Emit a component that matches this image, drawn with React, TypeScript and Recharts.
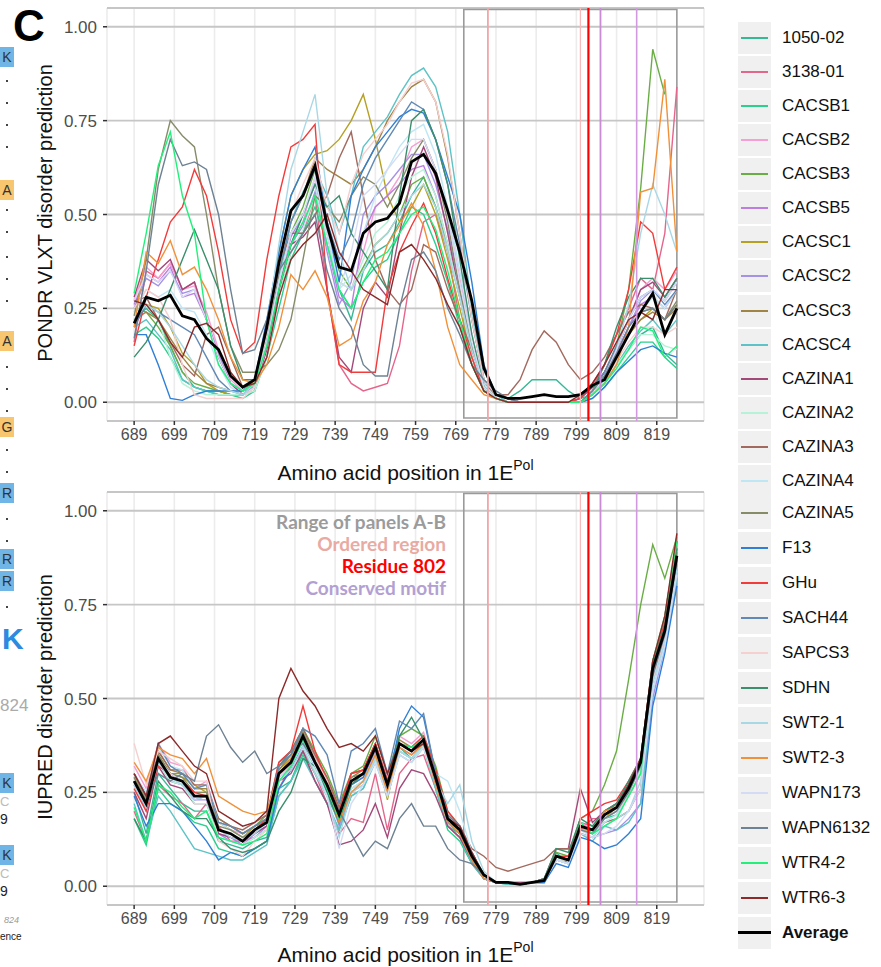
import React from 'react';
import {
  LineChart,
  Line,
  XAxis,
  YAxis,
  CartesianGrid,
  ReferenceArea,
  ReferenceLine,
} from 'recharts';

// residue positions sampled every 3 aa
const positions = [
  689, 692, 695, 698, 701, 704, 707, 710, 713, 716, 719, 722, 725, 728, 731, 734, 737, 740, 743, 746, 749, 752, 755,
  758, 761, 764, 767, 770, 773, 776, 779, 782, 785, 788, 791, 794, 797, 800, 803, 806, 809, 812, 815, 818, 821, 824,
];
const xTicks = [689, 699, 709, 719, 729, 739, 749, 759, 769, 779, 789, 799, 809, 819];
const yTicks = [0, 0.25, 0.5, 0.75, 1];

const strainNames = [
  '1050-02', '3138-01', 'CACSB1', 'CACSB2', 'CACSB3', 'CACSB5', 'CACSC1', 'CACSC2', 'CACSC3', 'CACSC4',
  'CAZINA1', 'CAZINA2', 'CAZINA3', 'CAZINA4', 'CAZINA5', 'F13', 'GHu', 'SACH44', 'SAPCS3', 'SDHN',
  'SWT2-1', 'SWT2-3', 'WAPN173', 'WAPN6132', 'WTR4-2', 'WTR6-3',
];
const strainColors = [
  '#35b995', '#e5668c', '#2bcf8e', '#f59fd5', '#6aad45', '#bd7ee0', '#b5a024', '#a592e6', '#a08445', '#5ec3c6',
  '#a3497a', '#b5f2d8', '#a26a5f', '#bfe6f5', '#868c68', '#2f7fd6', '#f23b3b', '#6189b5', '#f6cfcf', '#3a8f6c',
  '#a8d8e6', '#f0913a', '#d4dcf5', '#6d8294', '#22f07a', '#8c2a2a',
];

// PONDR VLXT
const pondr_1050_02 = [0.22,0.25,0.22,0.15,0.08,0.04,0.03,0.03, 0.02,0.02,0.04,0.15, 0.30,0.42,0.50,0.58,0.45, 0.30,0.22,0.35,0.40,0.42, 0.48,0.55,0.60,0.52,0.40, 0.28,0.15,0.05,0.02, 0.01,0.03,0.06,0.06,0.06,0.03,0.01, 0.02,0.05,0.10,0.14,0.18,0.20,0.13,0.10];
const pondr_3138_01 = [0.16,0.35,0.33,0.37,0.30,0.32,0.22,0.12, 0.05,0.02,0.03,0.15, 0.28,0.40,0.45,0.55,0.30, 0.10,0.05,0.03,0.04,0.05, 0.15,0.35,0.48,0.50,0.40, 0.22,0.10,0.03,0.01, 0,0,0,0,0,0,0.01, 0.04,0.10,0.18,0.25,0.33,0.30,0.45,0.84];
const pondr_CACSB1 = [0.18,0.20,0.17,0.12,0.06,0.04,0.03,0.02, 0.02,0.01,0.03,0.12, 0.25,0.38,0.45,0.52,0.42, 0.30,0.25,0.32,0.36,0.38, 0.45,0.52,0.50,0.42,0.32, 0.20,0.10,0.03,0.01, 0,0,0,0,0,0,0, 0.01,0.04,0.08,0.12,0.16,0.16,0.12,0.09];
const pondr_CACSB2 = [0.27,0.36,0.33,0.37,0.30,0.31,0.24,0.14, 0.06,0.03,0.04,0.14, 0.30,0.42,0.48,0.60,0.45, 0.32,0.30,0.40,0.52,0.55, 0.60,0.68,0.70,0.62,0.50, 0.33,0.18,0.05,0.01, 0,0,0,0,0,0,0.01, 0.04,0.08,0.14,0.22,0.30,0.33,0.30,0.35];
const pondr_CACSB3 = [0.25,0.24,0.20,0.15,0.08,0.05,0.04,0.03, 0.02,0.02,0.04,0.15, 0.30,0.45,0.52,0.62,0.48, 0.35,0.30,0.36,0.42,0.45, 0.50,0.58,0.60,0.52,0.42, 0.28,0.15,0.04,0.01, 0,0,0,0,0,0,0, 0.03,0.08,0.15,0.30,0.57,0.94,0.82,null];
const pondr_CACSB5 = [0.26,0.34,0.32,0.36,0.28,0.29,0.22,0.12, 0.05,0.02,0.04,0.16, 0.32,0.44,0.50,0.58,0.42, 0.28,0.25,0.45,0.52,0.55, 0.58,0.62,0.63,0.55,0.42, 0.28,0.14,0.04,0.01, 0,0,0,0,0,0,0, 0.03,0.07,0.13,0.20,0.26,0.28,0.25,0.30];
const pondr_CACSC1 = [0.24,0.26,0.25,0.20,0.13,0.10,0.05,0.03, 0.02,0.02,0.05,0.18, 0.40,0.55,0.62,0.66,0.67, 0.70,0.75,0.82,0.70,0.55, 0.48,0.52,0.58,0.50,0.38, 0.25,0.12,0.03,0.01, 0,0,0,0,0,0,0, 0.02,0.06,0.12,0.18,0.22,0.25,0.22,0.26];
const pondr_CACSC2 = [0.25,0.33,0.31,0.35,0.29,0.30,0.22,0.13, 0.05,0.03,0.04,0.15, 0.30,0.42,0.47,0.56,0.40, 0.26,0.32,0.50,0.55,0.58, 0.62,0.66,0.66,0.58,0.46, 0.30,0.15,0.04,0.01, 0,0,0,0,0,0,0, 0.03,0.07,0.13,0.20,0.27,0.30,0.27,0.32];
const pondr_CACSC3 = [0.22,0.24,0.22,0.17,0.12,0.08,0.05,0.04, 0.03,0.03,0.06,0.18, 0.34,0.48,0.55,0.65,0.62, 0.60,0.58,0.62,0.68,0.75, 0.80,0.84,0.86,0.80,0.65, 0.45,0.22,0.06,0.02, 0.01,0,0,0,0,0,0, 0.03,0.07,0.12,0.18,0.22,0.24,0.22,0.25];
const pondr_CACSC4 = [0.20,0.22,0.18,0.14,0.06,0.04,0.03,0.02, 0.02,0.02,0.04,0.16, 0.32,0.48,0.56,0.62,0.55, 0.45,0.55,0.68,0.72,0.76, 0.82,0.87,0.89,0.84,0.72, 0.50,0.25,0.06,0.02, 0,0,0,0,0,0,0, 0.02,0.05,0.10,0.15,0.19,0.22,0.18,0.22];
const pondr_CAZINA1 = [0.28,0.38,0.35,0.38,0.30,0.32,0.22,0.12, 0.05,0.02,0.04,0.14, 0.30,0.42,0.44,0.48,0.30, 0.12,0.08,0.25,0.32,0.28, 0.45,0.60,0.68,0.60,0.45, 0.28,0.12,0.03,0.01, 0,0,0,0,0,0,0.01, 0.04,0.08,0.14,0.22,0.30,0.32,0.28,0.33];
const pondr_CAZINA2 = [0.24,0.26,0.22,0.12,0.05,0.03,0.02,0.02, 0.02,0.02,0.03,0.12, 0.28,0.40,0.46,0.55,0.45, 0.32,0.30,0.38,0.45,0.48, 0.55,0.60,0.62,0.55,0.42, 0.28,0.12,0.03,0.01, 0,0,0,0,0,0,0, 0.02,0.05,0.10,0.14,0.18,0.18,0.15,0.14];
const pondr_CAZINA3 = [0.27,0.28,0.22,0.16,0.10,0.07,0.18,0.20, 0.12,0.04,0.05,0.18, 0.36,0.45,0.45,0.50,0.55, 0.65,0.72,0.55,0.38,0.30, 0.26,0.30,0.42,0.40,0.30, 0.22,0.14,0.05,0.02, 0.02,0.06,0.14,0.19,0.16,0.10,0.06, 0.08,0.12,0.18,0.24,0.26,0.25,0.22,0.30];
const pondr_CAZINA4 = [0.24,0.30,0.28,0.30,0.25,0.24,0.18,0.10, 0.04,0.02,0.04,0.15, 0.32,0.45,0.50,0.58,0.42, 0.30,0.34,0.45,0.55,0.62, 0.68,0.72,0.74,0.66,0.52, 0.35,0.18,0.05,0.01, 0,0,0,0,0,0,0, 0.03,0.07,0.12,0.18,0.24,0.28,0.25,0.30];
const pondr_CAZINA5 = [0.23,0.38,0.62,0.75,0.71,0.68,0.50,0.30, 0.15,0.08,0.08,0.10, 0.14,0.22,0.38,0.55,0.52, 0.48,0.55,0.60,0.58,0.52, 0.58,0.65,0.70,0.62,0.48, 0.30,0.15,0.04,0.01, 0,0,0,0,0,0,0, 0.03,0.07,0.12,0.18,0.24,0.25,0.22,0.27];
const pondr_F13 = [0.18,0.18,0.10,0.01,0.005,0.02,0.03,0.03, 0.03,0.03,0.06,0.22, 0.40,0.55,0.62,0.68,0.48, 0.32,0.55,0.62,0.68,0.72, 0.76,0.78,0.77,0.70,0.60, 0.50,0.32,0.10,0.02, 0.01,0,0,0,0,0,0, 0.01,0.04,0.08,0.11,0.14,0.15,0.13,0.12];
const pondr_GHu = [0.15,0.28,0.38,0.48,0.52,0.62,0.55,0.40, 0.22,0.13,0.16,0.38, 0.55,0.68,0.70,0.74,0.30, 0.10,0.08,0.08,0.08,0.30, 0.40,0.47,0.53,0.45,0.33, 0.22,0.12,0.03,0.01, 0,0,0,0,0,0,0.01, 0.05,0.10,0.18,0.30,0.48,0.45,0.30,0.36];
const pondr_SACH44 = [0.20,0.26,0.24,0.22,0.20,0.18,0.12,0.06, 0.03,0.02,0.05,0.18, 0.35,0.48,0.55,0.62,0.48, 0.38,0.45,0.58,0.65,0.70, 0.75,0.80,0.78,0.70,0.58, 0.42,0.22,0.06,0.02, 0.01,0,0,0,0,0,0, 0.03,0.08,0.15,0.22,0.28,0.30,0.26,0.30];
const pondr_SAPCS3 = [0.25,0.30,0.28,0.22,0.10,0.02,0.01,0.01, 0.01,0.01,0.04,0.18, 0.36,0.50,0.58,0.65,0.52, 0.45,0.58,0.66,0.70,0.74, 0.80,0.85,0.86,0.80,0.66, 0.45,0.22,0.06,0.02, 0.01,0,0,0,0,0,0, 0.02,0.06,0.11,0.16,0.20,0.20,0.18,0.20];
const pondr_SDHN = [0.12,0.16,0.22,0.30,0.38,0.46,0.38,0.30, 0.15,0.06,0.06,0.15, 0.30,0.42,0.50,0.58,0.52, 0.55,0.45,0.40,0.35,0.30, 0.55,0.75,0.78,0.70,0.58, 0.38,0.18,0.04,0.01, 0,0,0,0,0,0,0, 0.03,0.10,0.20,0.28,0.33,0.33,0.28,0.33];
const pondr_SWT2_1 = [0.22,0.26,0.24,0.20,0.15,0.10,0.06,0.04, 0.03,0.02,0.05,0.20, 0.42,0.62,0.72,0.82,0.55, 0.40,0.30,0.35,0.42,0.45, 0.50,0.55,0.58,0.52,0.40, 0.28,0.14,0.04,0.01, 0,0,0,0,0,0,0, 0.02,0.06,0.14,0.26,0.45,0.58,0.50,0.40];
const pondr_SWT2_3 = [0.20,0.40,0.37,0.43,0.34,0.36,0.30,0.22, 0.12,0.06,0.05,0.10, 0.20,0.34,0.30,0.35,0.28, 0.15,0.17,0.27,0.32,0.42, 0.47,0.53,0.47,0.35,0.20, 0.10,0.06,0.02,0.01, 0,0,0,0,0,0,0, 0.02,0.05,0.10,0.20,0.56,0.57,0.86,0.40];
const pondr_WAPN173 = [0.27,0.34,0.32,0.35,0.28,0.30,0.22,0.12, 0.05,0.03,0.05,0.16, 0.32,0.45,0.50,0.60,0.45, 0.30,0.40,0.55,0.58,0.62, 0.66,0.70,0.70,0.62,0.50, 0.32,0.16,0.04,0.01, 0,0,0,0,0,0,0, 0.03,0.07,0.14,0.22,0.28,0.30,0.27,0.32];
const pondr_WAPN6132 = [0.17,0.35,0.58,0.70,0.63,0.64,0.62,0.50, 0.30,0.13,0.14,0.22, 0.35,0.40,0.45,0.50,0.35, 0.25,0.20,0.10,0.07,0.07, 0.25,0.38,0.40,0.35,0.25, 0.18,0.10,0.06,0.03, 0.01,0,0,0,0,0,0, 0.03,0.07,0.13,0.20,0.24,0.25,0.22,0.26];
const pondr_WTR4_2 = [0.29,0.45,0.63,0.72,0.55,0.45,0.22,0.10, 0.05,0.03,0.05,0.15, 0.30,0.42,0.48,0.55,0.42, 0.30,0.25,0.32,0.38,0.40, 0.45,0.50,0.52,0.46,0.35, 0.22,0.10,0.03,0.01, 0,0,0,0,0,0,0, 0.02,0.05,0.09,0.14,0.20,0.19,0.12,0.15];
const pondr_WTR6_3 = [0.27,0.26,0.22,0.16,0.12,0.20,0.21,0.18, 0.08,0.04,0.05,0.12, 0.28,0.38,0.42,0.45,0.50, 0.40,0.35,0.30,0.28,0.26, 0.40,0.42,0.38,0.33,0.26, 0.20,0.10,0.03,0.01, 0,0,0,0,0,0,0.02, 0.05,0.10,0.16,0.22,0.24,0.22,0.30,0.30];
const pondr_average = [0.21,0.28,0.27,0.285,0.23,0.22,0.17,0.14, 0.07,0.04,0.06,0.20, 0.37,0.51,0.55,0.63,0.47, 0.36,0.35,0.45,0.48,0.49, 0.53,0.64,0.66,0.61,0.51, 0.40,0.27,0.09,0.02, 0.01,0.01,0.015,0.02,0.015,0.015,0.02, 0.045,0.06,0.12,0.18,0.24,0.29,0.18,0.25];

// IUPRED
const iupred_1050_02 = [0.25,0.14,0.30,0.26,0.22,0.20,0.20,0.12, 0.11,0.10,0.12,0.13, 0.26,0.28,0.36,0.30,0.24, 0.17,0.26,0.28,0.35,0.25, 0.37,0.34,0.38,0.27,0.16, 0.14,0.07,0.02,0.01, 0.01,0.005,0.01,0.01,0.09,0.06,0.17, 0.16,0.20,0.22,0.27,0.34,0.60,0.70,0.90];
const iupred_3138_01 = [0.20,0.12,0.27,0.24,0.22,0.18,0.22,0.16, 0.12,0.12,0.13,0.15, 0.26,0.32,0.36,0.30,0.22, 0.14,0.18,0.17,0.30,0.15, 0.30,0.34,0.35,0.26,0.16, 0.13,0.06,0.02,0.01, 0.01,0.01,0.01,0.01,0.07,0.06,0.15, 0.18,0.18,0.20,0.24,0.30,0.55,0.72,0.92];
const iupred_CACSB1 = [0.18,0.11,0.26,0.22,0.20,0.17,0.16,0.10, 0.09,0.08,0.10,0.12, 0.24,0.28,0.35,0.28,0.22, 0.15,0.24,0.26,0.34,0.24, 0.36,0.34,0.38,0.26,0.15, 0.12,0.06,0.02,0.01, 0.005,0.005,0.01,0.01,0.08,0.06,0.15, 0.14,0.18,0.19,0.24,0.30,0.58,0.70,0.88];
const iupred_CACSB2 = [0.32,0.26,0.38,0.33,0.32,0.26,0.28,0.17, 0.15,0.14,0.16,0.18, 0.32,0.34,0.42,0.35,0.28, 0.20,0.30,0.31,0.38,0.29, 0.40,0.38,0.41,0.30,0.19, 0.16,0.09,0.03,0.01, 0.01,0.005,0.01,0.02,0.08,0.07,0.17, 0.15,0.20,0.22,0.27,0.34,0.56,0.66,0.85];
const iupred_CACSB3 = [0.30,0.24,0.35,0.30,0.30,0.26,0.26,0.18, 0.16,0.14,0.16,0.19, 0.32,0.36,0.42,0.36,0.30, 0.22,0.30,0.32,0.40,0.30, 0.40,0.42,0.40,0.32,0.20, 0.16,0.09,0.03,0.01, 0.01,0.005,0.01,0.02,0.09,0.08,0.18, 0.20,0.27,0.36,0.55,0.75,0.91,0.82,0.93];
const iupred_CACSB5 = [0.28,0.20,0.34,0.28,0.27,0.23,0.24,0.14, 0.13,0.11,0.14,0.16, 0.29,0.32,0.39,0.32,0.26, 0.18,0.27,0.29,0.36,0.26, 0.37,0.35,0.38,0.28,0.17, 0.14,0.07,0.02,0.01, 0.01,0.005,0.01,0.015,0.08,0.07,0.16, 0.15,0.19,0.21,0.26,0.32,0.57,0.67,0.87];
const iupred_CACSC1 = [0.29,0.23,0.35,0.30,0.29,0.27,0.25,0.17, 0.15,0.13,0.16,0.17, 0.31,0.34,0.40,0.34,0.28, 0.20,0.27,0.30,0.37,0.23, 0.38,0.36,0.39,0.28,0.17, 0.15,0.08,0.03,0.01, 0.01,0.005,0.01,0.015,0.08,0.07,0.16, 0.14,0.18,0.21,0.26,0.33,0.57,0.68,0.88];
const iupred_CACSC2 = [0.27,0.21,0.33,0.28,0.27,0.23,0.23,0.14, 0.12,0.11,0.13,0.16, 0.29,0.32,0.38,0.32,0.26, 0.16,0.25,0.27,0.35,0.25, 0.36,0.34,0.37,0.27,0.17, 0.14,0.07,0.02,0.01, 0.01,0.005,0.01,0.01,0.07,0.06,0.14, 0.13,0.14,0.15,0.18,0.22,0.50,0.64,0.82];
const iupred_CACSC3 = [0.30,0.24,0.36,0.31,0.30,0.26,0.26,0.17, 0.16,0.14,0.16,0.18, 0.32,0.35,0.41,0.34,0.28, 0.20,0.29,0.31,0.38,0.28, 0.39,0.37,0.40,0.30,0.19, 0.16,0.09,0.03,0.01, 0.01,0.005,0.01,0.02,0.08,0.07,0.16, 0.15,0.19,0.22,0.27,0.34,0.59,0.69,0.89];
const iupred_CACSC4 = [0.22,0.12,0.24,0.20,0.15,0.10,0.09,0.08, 0.07,0.07,0.09,0.11, 0.24,0.28,0.34,0.28,0.22, 0.15,0.24,0.26,0.33,0.24, 0.35,0.33,0.37,0.26,0.16, 0.13,0.06,0.02,0.01, 0.005,0.005,0.01,0.01,0.07,0.06,0.14, 0.12,0.16,0.15,0.17,0.22,0.52,0.64,0.82];
const iupred_CAZINA1 = [0.25,0.18,0.32,0.27,0.26,0.22,0.22,0.14, 0.13,0.12,0.14,0.16, 0.28,0.30,0.36,0.28,0.22, 0.11,0.12,0.15,0.22,0.13, 0.26,0.31,0.30,0.24,0.16, 0.13,0.07,0.02,0.01, 0.01,0.01,0.01,0.02,0.10,0.10,0.26, 0.17,0.20,0.22,0.27,0.33,0.56,0.68,0.88];
const iupred_CAZINA2 = [0.26,0.20,0.33,0.28,0.27,0.22,0.22,0.13, 0.12,0.11,0.13,0.15, 0.28,0.31,0.38,0.31,0.25, 0.17,0.26,0.28,0.35,0.25, 0.36,0.34,0.37,0.27,0.17, 0.14,0.07,0.02,0.01, 0.01,0.005,0.01,0.01,0.07,0.06,0.15, 0.14,0.18,0.20,0.25,0.31,0.56,0.66,0.86];
const iupred_CAZINA3 = [0.30,0.24,0.36,0.31,0.31,0.27,0.27,0.18, 0.16,0.15,0.17,0.19, 0.33,0.36,0.42,0.35,0.29, 0.21,0.30,0.31,0.38,0.28, 0.38,0.36,0.38,0.28,0.18, 0.16,0.10,0.08,0.05, 0.04,0.05,0.06,0.07,0.10,0.10,0.14, 0.13,0.17,0.18,0.20,0.26,0.55,0.68,0.88];
const iupred_CAZINA4 = [0.30,0.25,0.37,0.32,0.31,0.26,0.27,0.17, 0.15,0.13,0.15,0.18, 0.30,0.33,0.39,0.33,0.27, 0.18,0.26,0.28,0.34,0.26, 0.38,0.37,0.40,0.30,0.28, 0.20,0.09,0.03,0.01, 0.01,0.005,0.01,0.01,0.07,0.06,0.14, 0.13,0.17,0.19,0.24,0.30,0.55,0.66,0.85];
const iupred_CAZINA5 = [0.29,0.23,0.35,0.30,0.29,0.25,0.25,0.16, 0.15,0.13,0.15,0.18, 0.31,0.35,0.41,0.34,0.28, 0.20,0.29,0.30,0.37,0.27, 0.38,0.36,0.39,0.29,0.18, 0.15,0.08,0.03,0.01, 0.01,0.005,0.01,0.015,0.08,0.07,0.16, 0.15,0.19,0.21,0.26,0.33,0.58,0.68,0.88];
const iupred_F13 = [0.24,0.16,0.22,0.22,0.20,0.16,0.12,0.07, 0.09,0.08,0.10,0.12, 0.26,0.31,0.38,0.32,0.25, 0.17,0.27,0.29,0.37,0.27, 0.42,0.48,0.45,0.30,0.17, 0.14,0.07,0.02,0.01, 0.01,0.005,0.01,0.01,0.06,0.05,0.13, 0.12,0.10,0.11,0.14,0.18,0.48,0.62,0.80];
const iupred_GHu = [0.26,0.20,0.32,0.30,0.28,0.25,0.24,0.15, 0.14,0.12,0.15,0.18, 0.33,0.36,0.48,0.36,0.28, 0.20,0.30,0.31,0.38,0.28, 0.38,0.37,0.40,0.31,0.20, 0.16,0.08,0.03,0.01, 0.01,0.005,0.01,0.015,0.08,0.08,0.18, 0.20,0.22,0.23,0.28,0.34,0.60,0.70,0.92];
const iupred_SACH44 = [0.30,0.24,0.38,0.32,0.30,0.26,0.27,0.17, 0.16,0.14,0.16,0.18, 0.32,0.35,0.42,0.40,0.35, 0.22,0.36,0.38,0.42,0.30, 0.44,0.42,0.46,0.30,0.19, 0.16,0.09,0.03,0.01, 0.01,0.005,0.01,0.015,0.08,0.07,0.16, 0.15,0.19,0.21,0.26,0.32,0.56,0.67,0.86];
const iupred_SAPCS3 = [0.38,0.27,0.36,0.34,0.32,0.28,0.28,0.12, 0.10,0.08,0.12,0.15, 0.29,0.33,0.40,0.34,0.28, 0.19,0.28,0.30,0.37,0.27, 0.38,0.36,0.39,0.29,0.18, 0.15,0.08,0.03,0.01, 0.01,0.005,0.01,0.015,0.07,0.07,0.15, 0.15,0.18,0.20,0.24,0.30,0.55,0.66,0.84];
const iupred_SDHN = [0.18,0.12,0.28,0.24,0.20,0.18,0.18,0.13, 0.10,0.09,0.10,0.12, 0.20,0.25,0.34,0.32,0.25, 0.17,0.27,0.30,0.37,0.27, 0.40,0.45,0.39,0.29,0.18, 0.15,0.08,0.03,0.01, 0.01,0.005,0.01,0.02,0.10,0.09,0.18, 0.16,0.20,0.22,0.28,0.34,0.59,0.69,0.90];
const iupred_SWT2_1 = [0.27,0.21,0.33,0.29,0.27,0.23,0.24,0.15, 0.13,0.12,0.14,0.17, 0.28,0.31,0.37,0.30,0.24, 0.13,0.25,0.27,0.34,0.24, 0.36,0.34,0.38,0.28,0.22, 0.27,0.12,0.04,0.01, 0.01,0.005,0.01,0.015,0.07,0.06,0.15, 0.14,0.16,0.18,0.20,0.28,0.54,0.65,0.84];
const iupred_SWT2_3 = [0.33,0.28,0.37,0.35,0.34,0.30,0.34,0.24, 0.22,0.20,0.19,0.20, 0.30,0.34,0.40,0.33,0.27, 0.17,0.25,0.28,0.35,0.25, 0.37,0.35,0.38,0.27,0.17, 0.14,0.07,0.02,0.01, 0.01,0.005,0.01,0.015,0.08,0.07,0.15, 0.15,0.20,0.21,0.26,0.33,0.57,0.68,0.87];
const iupred_WAPN173 = [0.28,0.22,0.34,0.30,0.28,0.24,0.24,0.15, 0.14,0.12,0.15,0.17, 0.29,0.32,0.38,0.32,0.24, 0.10,0.22,0.27,0.33,0.24, 0.35,0.33,0.37,0.28,0.18, 0.15,0.08,0.03,0.01, 0.01,0.005,0.01,0.015,0.07,0.06,0.15, 0.13,0.14,0.16,0.20,0.26,0.52,0.64,0.83];
const iupred_WAPN6132 = [0.28,0.22,0.30,0.28,0.30,0.28,0.40,0.43, 0.37,0.33,0.36,0.30, 0.32,0.36,0.38,0.33,0.27, 0.20,0.14,0.08,0.12,0.10, 0.18,0.22,0.16,0.16,0.10, 0.07,0.06,0.03,0.01, 0.01,0.005,0.01,0.015,0.08,0.07,0.15, 0.14,0.18,0.20,0.25,0.32,0.56,0.67,0.87];
const iupred_WTR4_2 = [0.21,0.12,0.27,0.25,0.21,0.18,0.20,0.13, 0.12,0.11,0.12,0.14, 0.28,0.32,0.39,0.33,0.26, 0.18,0.28,0.30,0.37,0.27, 0.38,0.37,0.39,0.29,0.18, 0.15,0.08,0.03,0.01, 0.01,0.005,0.01,0.015,0.08,0.07,0.17, 0.14,0.16,0.18,0.24,0.30,0.60,0.72,0.92];
const iupred_WTR6_3 = [0.30,0.24,0.38,0.40,0.36,0.32,0.30,0.20, 0.18,0.16,0.17,0.20, 0.50,0.58,0.52,0.48,0.42, 0.37,0.38,0.36,0.40,0.30, 0.38,0.36,0.38,0.28,0.18, 0.16,0.09,0.03,0.01, 0.01,0.005,0.01,0.015,0.08,0.07,0.16, 0.15,0.19,0.21,0.27,0.34,0.60,0.72,0.94];
const iupred_average = [0.28,0.22,0.34,0.29,0.28,0.24,0.24,0.15, 0.14,0.12,0.15,0.17, 0.30,0.33,0.40,0.33,0.27, 0.19,0.28,0.30,0.37,0.27, 0.38,0.36,0.39,0.29,0.18, 0.15,0.08,0.03,0.01, 0.01,0.005,0.01,0.015,0.08,0.07,0.16, 0.15,0.19,0.21,0.26,0.33,0.58,0.68,0.88];

const pondrSeries = [
  pondr_1050_02, pondr_3138_01, pondr_CACSB1, pondr_CACSB2, pondr_CACSB3, pondr_CACSB5, pondr_CACSC1, pondr_CACSC2,
  pondr_CACSC3, pondr_CACSC4, pondr_CAZINA1, pondr_CAZINA2, pondr_CAZINA3, pondr_CAZINA4, pondr_CAZINA5, pondr_F13,
  pondr_GHu, pondr_SACH44, pondr_SAPCS3, pondr_SDHN, pondr_SWT2_1, pondr_SWT2_3, pondr_WAPN173, pondr_WAPN6132,
  pondr_WTR4_2, pondr_WTR6_3,
];
const iupredSeries = [
  iupred_1050_02, iupred_3138_01, iupred_CACSB1, iupred_CACSB2, iupred_CACSB3, iupred_CACSB5, iupred_CACSC1,
  iupred_CACSC2, iupred_CACSC3, iupred_CACSC4, iupred_CAZINA1, iupred_CAZINA2, iupred_CAZINA3, iupred_CAZINA4,
  iupred_CAZINA5, iupred_F13, iupred_GHu, iupred_SACH44, iupred_SAPCS3, iupred_SDHN, iupred_SWT2_1, iupred_SWT2_3,
  iupred_WAPN173, iupred_WAPN6132, iupred_WTR4_2, iupred_WTR6_3,
];

const buildRows = (series: (number | null)[][], average: number[]) =>
  positions.map((pos, i) => {
    const row: Record<string, number | null> = { pos, Average: average[i] };
    strainNames.forEach((name, k) => {
      row[name] = series[k][i] ?? null;
    });
    return row;
  });

const pondrRows = buildRows(pondrSeries, pondr_average);
const iupredRows = buildRows(iupredSeries, iupred_average);

const FONT = '"Liberation Sans", Arial, Helvetica, sans-serif';

const Panel = ({ rows }: { rows: Record<string, number | null>[] }) => (
  <LineChart width={720} height={480} data={rows} margin={{ top: 8, right: 16, bottom: 0, left: 0 }}>
    <CartesianGrid horizontal={false} stroke="#ececec" strokeWidth={1.6} />
    <CartesianGrid vertical={false} stroke="#c6c6c6" strokeWidth={1.8} />
    <XAxis
      dataKey="pos"
      type="number"
      domain={[682.25, 830.75]}
      ticks={xTicks}
      interval={0}
      allowDataOverflow
      axisLine={false}
      tickSize={4}
      tickMargin={4}
      tickLine={{ stroke: '#333', strokeWidth: 1.5 }}
      tick={{ fill: '#4d4d4d', fontSize: 16, fontFamily: FONT }}
      height={59}
    />
    <YAxis
      type="number"
      domain={[-0.05, 1.05]}
      ticks={yTicks}
      interval={0}
      allowDataOverflow
      axisLine={false}
      tickSize={4}
      tickMargin={6}
      tickLine={{ stroke: '#333', strokeWidth: 1.5 }}
      tick={{ fill: '#4d4d4d', fontSize: 17, fontFamily: FONT }}
      tickFormatter={(v: number) => v.toFixed(2)}
      width={107}
    />
    {strainNames.map((name, k) => (
      <Line
        key={name}
        dataKey={name}
        type="linear"
        stroke={strainColors[k]}
        strokeWidth={1.4}
        dot={false}
        activeDot={false}
        isAnimationActive={false}
      />
    ))}
    <Line
      dataKey="Average"
      type="linear"
      stroke="#000"
      strokeWidth={2.8}
      dot={false}
      activeDot={false}
      isAnimationActive={false}
    />
    <ReferenceArea x1={771} x2={824} y1={-0.042} y2={1.046} fill="none" stroke="#9a9a9a" strokeWidth={1.6} />
    <ReferenceLine x={777} stroke="#f2a6a6" strokeWidth={1.8} />
    <ReferenceLine x={800} stroke="#f7b9b9" strokeWidth={1.2} />
    <ReferenceLine x={802} stroke="#ff0000" strokeWidth={2.2} />
    <ReferenceLine x={805} stroke="#c98ad6" strokeWidth={1.8} />
    <ReferenceLine x={814} stroke="#d19ade" strokeWidth={1.6} />
  </LineChart>
);

const XTitle = ({ top }: { top: number }) => (
  <div
    style={{
      position: 'absolute',
      left: 107,
      width: 597,
      top,
      textAlign: 'center',
      fontSize: 21,
      fontFamily: FONT,
      color: '#111',
      lineHeight: '24px',
    }}
  >
    Amino acid position in 1E<sup style={{ fontSize: 14, position: 'relative', top: -2 }}>Pol</sup>
  </div>
);

const YTitle = ({ cy, text }: { cy: number; text: string }) => (
  <div
    style={{
      position: 'absolute',
      left: 45 - 200,
      top: cy - 12,
      width: 400,
      textAlign: 'center',
      transform: 'rotate(-90deg)',
      fontSize: 20,
      fontFamily: FONT,
      color: '#111',
      lineHeight: '24px',
    }}
  >
    {text}
  </div>
);

const legendY = (i: number) => (i < 14 ? 37.7 + 34.1 * i : 512.7 + 35 * (i - 14));

const annotations = [
  { text: 'Range of panels A-B', color: '#9b9b9b', y: 522 },
  { text: 'Ordered region', color: '#e9aaa2', y: 544 },
  { text: 'Residue 802', color: '#ff0000', y: 566 },
  { text: 'Conserved motif', color: '#b3a0d2', y: 588 },
];

// pieces of the neighbouring panel that show on the left edge
const sideGlyphs = [
  { t: 'K', y: 57, bg: '#6fb5e6' },
  { t: 'A', y: 190, bg: '#f8c66e' },
  { t: 'A', y: 341, bg: '#f8c66e' },
  { t: 'G', y: 427, bg: '#f8c66e' },
  { t: 'R', y: 493, bg: '#6fb5e6' },
  { t: 'R', y: 559, bg: '#6fb5e6' },
  { t: 'R', y: 581, bg: '#6fb5e6' },
  { t: 'K', y: 783, bg: '#6fb5e6' },
  { t: 'K', y: 855, bg: '#6fb5e6' },
];
const sideDots = [82, 104, 126, 148, 211, 233, 258, 280, 302, 368, 390, 412, 451, 473, 520, 542, 608];

export default function App() {
  return (
    <div
      style={{
        position: 'absolute',
        left: 0,
        top: 0,
        width: 881,
        height: 967,
        background: '#fff',
        overflow: 'hidden',
        fontFamily: FONT,
      }}
    >
      {sideGlyphs.map((g, i) => (
        <div
          key={i}
          style={{
            position: 'absolute',
            left: 0,
            top: g.y - 10,
            height: 20,
            width: 14,
            textAlign: 'center',
            background: g.bg,
            fontSize: 14,
            lineHeight: '20px',
            color: '#333',
          }}
        >
          {g.t}
        </div>
      ))}
      {sideDots.map((y, i) => (
        <div key={i} style={{ position: 'absolute', left: 6, top: y - 2, width: 2, height: 2, background: '#444' }} />
      ))}
      <div style={{ position: 'absolute', left: 2, top: 624, fontSize: 30, fontWeight: 700, color: '#2a8be0', lineHeight: '30px' }}>K</div>
      <div style={{ position: 'absolute', left: 0, top: 696, fontSize: 17, color: '#aaa', lineHeight: '20px' }}>824</div>
      <div style={{ position: 'absolute', left: 0, top: 794, fontSize: 13, color: '#bbb', lineHeight: '16px' }}>C</div>
      <div style={{ position: 'absolute', left: 0, top: 811, fontSize: 14, color: '#222', lineHeight: '16px' }}>9</div>
      <div style={{ position: 'absolute', left: 0, top: 866, fontSize: 13, color: '#bbb', lineHeight: '16px' }}>C</div>
      <div style={{ position: 'absolute', left: 0, top: 883, fontSize: 14, color: '#222', lineHeight: '16px' }}>9</div>
      <div style={{ position: 'absolute', left: 4, top: 915, fontSize: 9, color: '#999', fontStyle: 'italic' }}>824</div>
      <div style={{ position: 'absolute', left: 0, top: 931, fontSize: 10, color: '#222' }}>ence</div>

      <div style={{ position: 'absolute', left: 13, top: 2, fontSize: 44, fontWeight: 700, color: '#000', lineHeight: '48px' }}>C</div>

      <div style={{ position: 'absolute', left: 0, top: 0 }}>
        <Panel rows={pondrRows} />
      </div>
      <div style={{ position: 'absolute', left: 0, top: 484 }}>
        <Panel rows={iupredRows} />
      </div>

      <XTitle top={455} />
      <XTitle top={937} />
      <YTitle cy={213} text="PONDR VLXT disorder prediction" />
      <YTitle cy={697} text="IUPRED disorder prediction" />

      {annotations.map((a) => (
        <div
          key={a.text}
          style={{
            position: 'absolute',
            right: 881 - 446,
            top: a.y - 12,
            fontFamily: 'Lato, "Open Sans", sans-serif',
            fontWeight: 700,
            fontSize: 19,
            lineHeight: '24px',
            color: a.color,
            whiteSpace: 'nowrap',
          }}
        >
          {a.text}
        </div>
      ))}

      {[...strainNames, 'Average'].map((name, i) => {
        const cy = legendY(i);
        const isAvg = name === 'Average';
        return (
          <React.Fragment key={name}>
            <div style={{ position: 'absolute', left: 738, top: cy - 16, width: 33, height: 32, background: '#f0f0f0' }} />
            <div
              style={{
                position: 'absolute',
                left: isAvg ? 738 : 741,
                width: isAvg ? 33 : 27,
                top: cy - (isAvg ? 1.5 : 1),
                height: isAvg ? 3 : 2,
                background: isAvg ? '#000' : strainColors[i],
              }}
            />
            <div
              style={{
                position: 'absolute',
                left: 782,
                top: cy - 11,
                fontSize: 17,
                lineHeight: '22px',
                fontWeight: isAvg ? 700 : 400,
                color: '#111',
                whiteSpace: 'nowrap',
              }}
            >
              {name}
            </div>
          </React.Fragment>
        );
      })}
    </div>
  );
}
